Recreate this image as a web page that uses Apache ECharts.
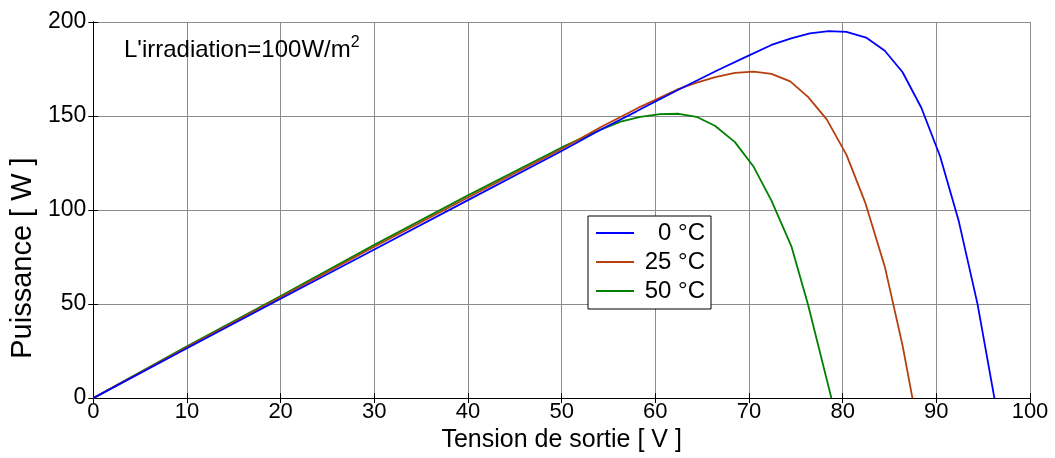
<!DOCTYPE html>
<html>
<head>
<meta charset="utf-8">
<title>Puissance - tension</title>
<script src="https://cdn.jsdelivr.net/npm/echarts@6/dist/echarts.min.js"></script>
<style>
    html, body { margin: 0; padding: 0; background: #fff; }
    #main { width: 1055px; height: 458px; }
</style>
</head>
<body>
<div id="main"></div>
<script>
    // courbes P(V)
    var seriesNames = ['0 °C', '25 °C', '50 °C'];
    var seriesColors = ['#0000ff', '#b5400e', '#008000'];

    var v0 = [0, 10, 20, 30, 40, 50, 54.1, 58, 62.3, 66.7, 69.9, 72.4, 74.5, 76.5, 78.5, 80.4, 82.5, 84.5, 86.4, 88.4, 90.4, 92.4, 94.4, 96.2];
    var p0 = [0, 26.5, 52.8, 79, 105.3, 131.4, 142.6, 152.5, 163.6, 174.5, 182, 187.8, 191.3, 194, 195.2, 194.8, 191.7, 184.7, 173.3, 154.4, 128.6, 94, 50, 0];

    var v25 = [0, 10, 20, 30, 40, 50, 54.1, 58.4, 60.4, 62.3, 64.25, 66.4, 68.5, 70.5, 72.4, 74.4, 76.3, 78.3, 80.4, 82.4, 84.5, 86.4, 87.45];
    var p25 = [0, 27, 53.6, 80.5, 106.7, 132.5, 143.9, 154.9, 159.5, 164, 167.5, 170.7, 172.9, 173.6, 172.4, 168.4, 160.2, 148.2, 129.5, 104.1, 69.9, 27.9, 0];

    var v50 = [0, 10, 20, 30, 40, 50, 52.3, 54.3, 56.3, 58.4, 60.5, 62.5, 64.4, 66.4, 68.5, 70.5, 72.4, 74.55, 76.3, 78.8];
    var p50 = [0, 27.5, 54.3, 81.5, 107.8, 133.3, 138.5, 143, 147, 149.6, 151, 151.2, 149.6, 144.7, 136.1, 123, 105, 80.4, 49.8, 0];

    var xTicks = [0, 10, 20, 30, 40, 50, 60, 70, 80, 90, 100];
    var yTicks = [0, 50, 100, 150, 200];

    function pairs(xs, ys) {
        var out = [];
        for (var i = 0; i < xs.length; i++) {
            out.push([xs[i], ys[i]]);
        }
        return out;
    }

    var allV = [v0, v25, v50];
    var allP = [p0, p25, p50];

    var series = [];
    for (var k = 0; k < seriesNames.length; k++) {
        series.push({
            name: seriesNames[k],
            type: 'line',
            data: pairs(allV[k], allP[k]),
            showSymbol: false,
            symbol: 'none',
            lineStyle: { color: seriesColors[k], width: 1.8 },
            itemStyle: { color: seriesColors[k] },
            z: 10 - k,
            animation: false
        });
    }

    var font = 'Arial, "Liberation Sans", sans-serif';

    var myChart = echarts.init(document.getElementById('main'));
    var option = {
        backgroundColor: '#fff',
        animation: false,
        grid: { left: 92, right: 25, top: 22, bottom: 55 },
        legend: {
            data: seriesNames,
            orient: 'vertical',
            left: 588,
            top: 216,
            padding: [5, 6, 6, 8],
            itemGap: 5,
            itemWidth: 38,
            itemHeight: 2,
            itemTextGap: 3,
            icon: 'rect',
            borderColor: '#000',
            borderWidth: 1,
            backgroundColor: '#fff',
            formatter: function (name) { return '{t|' + name + '}'; },
            textStyle: {
                rich: {
                    t: { width: 66, align: 'right', fontSize: 24, lineHeight: 25, color: '#000', fontFamily: font }
                }
            }
        },
        xAxis: [{
            type: 'value',
            min: 0, max: 100, interval: 10,
            name: 'Tension de sortie [ V ]',
            nameLocation: 'middle',
            nameGap: 22,
            nameTextStyle: { fontSize: 25, color: '#000', fontFamily: font },
            axisLine: { lineStyle: { color: '#000', width: 1 } },
            axisTick: { inside: true, length: 5, lineStyle: { color: '#000' } },
            axisLabel: { fontSize: 22, color: '#000', margin: 3, fontFamily: font },
            splitLine: { show: true, lineStyle: { color: '#8c8c8c', width: 1 } }
        }, {
            type: 'value',
            position: 'top',
            min: 0, max: 100, interval: 10,
            axisLine: { show: true, lineStyle: { color: '#000', width: 1 } },
            axisTick: { show: true, inside: true, length: 5, lineStyle: { color: '#000' } },
            axisLabel: { show: false },
            splitLine: { show: false }
        }],
        yAxis: [{
            type: 'value',
            min: 0, max: 200, interval: 50,
            name: 'Puissance [ W ]',
            nameLocation: 'middle',
            nameGap: 56,
            nameTextStyle: { fontSize: 29, color: '#000', fontFamily: font, padding: [0, 96, 0, 0] },
            axisLine: { show: true, lineStyle: { color: '#000', width: 1 } },
            axisTick: { show: true, inside: true, length: 5, lineStyle: { color: '#000' } },
            axisLabel: { fontSize: 23, color: '#000', margin: 7, fontFamily: font },
            splitLine: { show: true, lineStyle: { color: '#8c8c8c', width: 1 } }
        }, {
            type: 'value',
            position: 'right',
            min: 0, max: 200, interval: 50,
            axisLine: { show: true, lineStyle: { color: '#000', width: 1 } },
            axisTick: { show: true, inside: true, length: 5, lineStyle: { color: '#000' } },
            axisLabel: { show: false },
            splitLine: { show: false }
        }],
        graphic: [{
            type: 'text',
            left: 124,
            top: 35,
            z: 20,
            style: {
                text: "{a|L'irradiation=100W/m}{s|2}",
                rich: {
                    a: { fontSize: 24, fill: '#000', fontFamily: font },
                    s: { fontSize: 16, fill: '#000', fontFamily: font, padding: [0, 0, 14, 0] }
                }
            }
        }],
        series: series
    };
    myChart.setOption(option);
</script>
</body>
</html>
